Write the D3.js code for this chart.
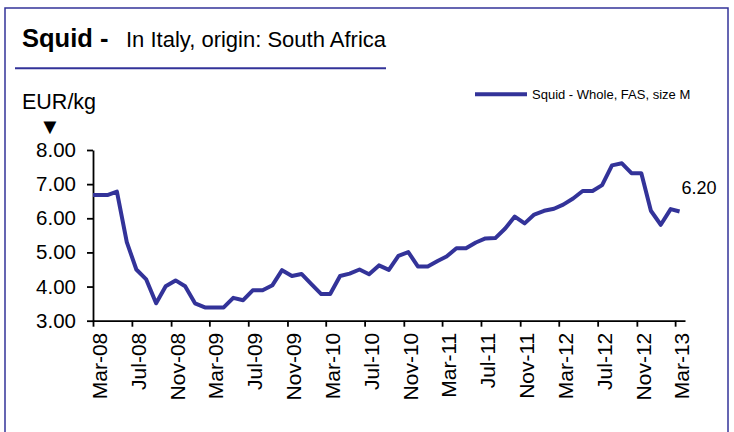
<!DOCTYPE html>
<html>
<head>
<meta charset="utf-8">
<script src="https://cdn.jsdelivr.net/npm/d3@7"></script>
<style>
body{margin:0;background:#fff;}
svg{display:block;font-family:"Liberation Sans",Arial,sans-serif;}
</style>
</head>
<body>
<div id="container"></div>
<script>
// monthly price, mid-month, Mar-08 .. Mar-13
var startMonth = "2008-03", endMonth = "2013-03";
var prices = [
  6.68,6.68,6.78,5.30,4.50,4.21,3.51,4.01,4.18,4.01,
  3.51,3.39,3.39,3.39,3.67,3.60,3.89,3.89,4.04,4.48,
  4.31,4.37,4.07,3.78,3.78,4.31,4.38,4.50,4.36,4.62,
  4.49,4.90,5.01,4.59,4.59,4.75,4.88,5.12,5.12,5.29,
  5.41,5.42,5.70,6.05,5.85,6.11,6.22,6.28,6.40,6.58,
  6.80,6.80,6.97,7.55,7.61,7.32,7.32,6.22,5.81,6.27,
  6.20
];
var xTickLabels = ["Mar-08","Jul-08","Nov-08","Mar-09","Jul-09","Nov-09","Mar-10","Jul-10",
  "Nov-10","Mar-11","Jul-11","Nov-11","Mar-12","Jul-12","Nov-12","Mar-13"];
var yTicks = [3,4,5,6,7,8];
var seriesName = "Squid - Whole, FAS, size M";
var lastLabel = "6.20";

var W = 734, H = 432;
var blue = "#333399";

var svg = d3.select("#container").append("svg").attr("width",W).attr("height",H);

// frame
svg.append("rect")
  .attr("x",5).attr("y",8).attr("width",723).attr("height",440)
  .attr("fill","none").attr("stroke",blue).attr("stroke-width",1.5);

// title
var title = svg.append("text").attr("x",22).attr("y",46.5);
title.append("tspan").attr("font-weight","bold").attr("font-size",25.5).text("Squid -");
svg.append("text").attr("x",126).attr("y",46.5).attr("font-size",22)
  .text("In Italy, origin: South Africa");
svg.append("line")
  .attr("x1",15).attr("x2",386).attr("y1",68.3).attr("y2",68.3)
  .attr("stroke",blue).attr("stroke-width",2);

svg.append("text").attr("x",22).attr("y",108.5).attr("font-size",21.5).text("EUR/kg");
svg.append("text").attr("x",50).attr("y",134).attr("font-size",22).attr("text-anchor","middle").text("\u25BC");

var parseMonth = d3.timeParse("%Y-%m");
var parseTick = d3.timeParse("%b-%y");
var t0 = parseMonth(startMonth);
var tEnd = d3.timeMonth.offset(parseMonth(endMonth),1);

var x = d3.scaleTime().domain([t0, tEnd]).range([93, 685]);
var y = d3.scaleLinear().domain([3, 8]).range([320.7, 150]);

var months = d3.timeMonth.range(t0, tEnd);
var data = months.map(function(m,i){
  return {date: d3.timeDay.offset(m,14), value: prices[i]};
});
// line starts on the axis
var lineData = [{date: t0, value: prices[0]}].concat(data);

// y axis
var yAxis = svg.append("g").attr("transform","translate(93,0)")
  .call(d3.axisLeft(y).tickValues(yTicks).tickFormat(d3.format(".2f")).tickSize(6).tickSizeOuter(0).tickPadding(11));
yAxis.selectAll("text").attr("font-size",20.5).attr("fill","#000").attr("font-family","Liberation Sans, Arial, sans-serif");

// x axis
var xAxis = svg.append("g").attr("transform","translate(0,320.7)")
  .call(d3.axisBottom(x).tickValues(xTickLabels.map(parseTick)).tickFormat(d3.timeFormat("%b-%y")).tickSize(6).tickSizeOuter(0));
xAxis.selectAll("text")
  .attr("transform","rotate(-90)")
  .attr("text-anchor","end")
  .attr("x",-12).attr("y",13.5).attr("dy",0)
  .attr("font-size",21).attr("fill","#000").attr("font-family","Liberation Sans, Arial, sans-serif");

svg.selectAll(".domain, .tick line").attr("stroke","#000").attr("stroke-width",1.8);

// series
svg.append("path")
  .datum(lineData)
  .attr("fill","none")
  .attr("stroke",blue)
  .attr("stroke-width",4)
  .attr("stroke-linejoin","round")
  .attr("d", d3.line().x(function(d){return x(d.date);}).y(function(d){return y(d.value);}));

var last = data[data.length-1];
svg.append("text")
  .attr("x", x(last.date)+2).attr("y", y(last.value)-17)
  .attr("font-size",18).text(lastLabel);

// legend
svg.append("line").attr("x1",475).attr("x2",527).attr("y1",94.3).attr("y2",94.3)
  .attr("stroke",blue).attr("stroke-width",4);
svg.append("text").attr("x",532).attr("y",99).attr("font-size",13).text(seriesName);
</script>
</body>
</html>
